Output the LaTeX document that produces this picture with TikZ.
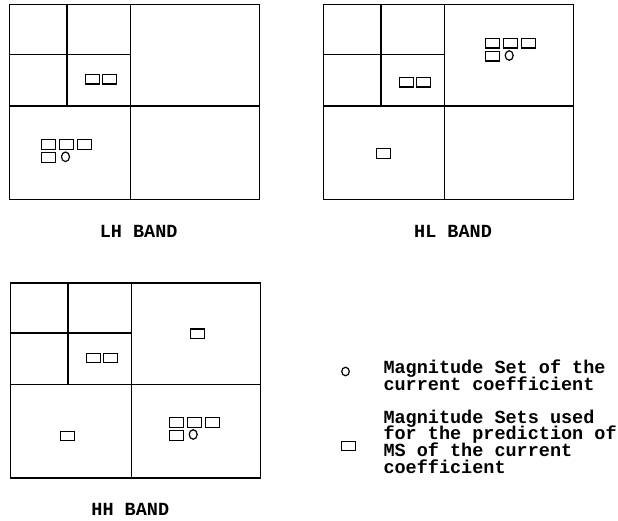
\documentclass[tikz,border=0pt]{standalone}
\usepackage{fontspec}
\setmonofont{Liberation Mono}
\usetikzlibrary{positioning, shapes.geometric}
\newcommand\keyfont{\ttfamily\bfseries\fontsize{18.5}{16.7}\selectfont\lineskiplimit=-20pt\relax}

\begin{document}
\begin{tikzpicture}[x=1pt, y=-1pt,
	frame/.style={line width=1.5pt},
	msbox/.style={draw, line width=1.2pt, rectangle, minimum width=14pt, minimum height=9.5pt, inner sep=0pt, anchor=north west},
	mscur/.style={draw, line width=1.2pt, ellipse, minimum width=8pt, minimum height=9.5pt, inner sep=0pt},
	bandlabel/.style={anchor=base, inner sep=0pt, font=\keyfont},
	keytext/.style={anchor=base west, align=left, inner sep=0pt, font=\keyfont}]
	\useasboundingbox (0,0) rectangle (618,521);
	% sub-band frames
	\foreach \b/\x/\y in {lh/9.3/4.7, hl/323.3/4.7, hh/10.3/283}{
		\draw[frame] (\x,\y) rectangle ++(250,195);
		\draw[frame] (\x+121,\y) -- ++(0,195);
		\draw[frame] (\x,\y+101.5) -- ++(250,0);
		\draw[frame] (\x+57.5,\y) -- ++(0,101.5);
		\draw[frame] (\x,\y+50) -- ++(121,0);
	}
	% neighbour pairs in the coarser level
	\foreach \b/\x/\y in {lh/84.7/74, hl/398.7/77, hh/85.7/352.7}{
		\node[msbox] (\b-pa) at (\x,\y) {};
		\node[msbox] (\b-pb) at (\x+16.8,\y) {};
	}
	% sets round the current coefficient
	\foreach \b/\x/\y in {lh/41/139.3, hl/484.7/38, hh/168.7/417}{
		\foreach \i in {0,1,2}
			\node[msbox] (\b-s\i) at (\x+18*\i,\y) {};
		\node[msbox] (\b-s3) at (\x,\y+13) {};
		\node[mscur] (\b-cur) at (\x+24.5,\y+17.5) {};
	}
	% single sets in the other bands
	\node[msbox] (hl-single) at (375.7,148.3) {};
	\node[msbox] (hh-upper) at (189.7,328.3) {};
	\node[msbox] (hh-lower) at (60,430.7) {};
	% band names
	\node[bandlabel] (lh-label) at (138.7,237.5) {LH BAND};
	\node[bandlabel] (hl-label) at (453,237.5) {HL BAND};
	\node[bandlabel] (hh-label) at (130.3,515.5) {HH BAND};
	% key (base anchor sits on the last line)
	\node[mscur, minimum width=7.5pt, minimum height=8.5pt] (key-cur) at (345.5,371.5) {};
	\node[keytext] (key-cur-text) at (383.3,390) {Magnitude Set of the\\current coefficient};
	\node[msbox, minimum height=8.5pt] (key-set) at (340.5,441.2) {};
	\node[keytext] (key-set-text) at (383.3,473.3) {Magnitude Sets used\\for the prediction of\\MS of the current\\coefficient};
\end{tikzpicture}
\end{document}
